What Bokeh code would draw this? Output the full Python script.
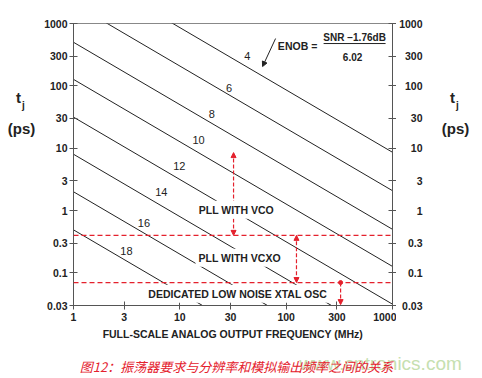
from bokeh.plotting import figure
from bokeh.layouts import row, column
from bokeh.models import (Range1d, LogAxis, FixedTicker, CustomJSTickFormatter,
                          Label, Span, Arrow, NormalHead)
from bokeh.core.properties import value
from bokeh.embed import file_html
from bokeh.resources import INLINE

# ---- data ----
enob = [4, 6, 8, 10, 12, 14, 16, 18]
tj_at_1mhz = [8600, 2080, 500, 127, 31.5, 8.0, 2.0, 0.49]          # ps at 1 MHz
tj_at_1000mhz = [8.6, 2.08, 0.5, 0.127, 0.0315, 0.008, 0.002, 0.00049]  # ps at 1000 MHz
label_f = [43, 29, 20, 15, 9.9, 6.7, 4.6, 3.15]
label_tj = [306, 94, 36, 13.7, 5.1, 2.0, 0.64, 0.227]

x_ticks = [1, 3, 10, 30, 100, 300, 1000]
y_ticks = [0.03, 0.1, 0.3, 1, 3, 10, 30, 100, 300, 1000]

limit_tj = [0.4, 0.07]                       # red dashed limits (ps)
region_names = ["PLL WITH VCO", "PLL WITH VCXO", "DEDICATED LOW NOISE XTAL OSC"]
region_f = [34, 36.5, 35]
region_tj = [1.03, 0.175, 0.0464]
arrow_f = [32, 125, 325]
arrow_top = [8.5, 0.4, 0.07]
arrow_bottom = [0.4, 0.07, 0.031]

x_title = "FULL-SCALE ANALOG OUTPUT FREQUENCY (MHz)"
caption = "图12：振荡器要求与分辨率和模拟输出频率之间的关系"
watermark = "www.cntronics.com"

FONT = "Liberation Sans"
RED = "#e4212d"
INK = "#222222"

# layout geometry (pixels)
LEFT_W, RIGHT_W = 40, 86
TOP, FRAME_W, FRAME_H, BOTTOM = 23, 319, 282, 40
MAIN_L, MAIN_R = 33, 4
MAIN_H = TOP + FRAME_H + BOTTOM
CAP_H = 378 - MAIN_H
RIGHT_AXIS_POS = 30       # inside the right strip

p = figure(width=MAIN_L + FRAME_W + MAIN_R, height=MAIN_H, output_backend="svg",
           toolbar_location=None, x_axis_type="log", y_axis_type="log",
           x_range=Range1d(1, 1000), y_range=Range1d(0.03, 1000),
           min_border_left=MAIN_L, min_border_right=MAIN_R,
           min_border_top=TOP, min_border_bottom=BOTTOM)
p.background_fill_color = "white"
p.border_fill_color = "white"
p.outline_line_color = "#888888"
p.grid.visible = False

fmt = CustomJSTickFormatter(code="return String(tick);")

def style_axis(ax):
    ax.axis_line_color = "#555555"
    ax.major_tick_line_color = "#555555"
    ax.major_tick_in = 4
    ax.major_tick_out = 4
    ax.minor_tick_line_color = None
    ax.major_label_text_font = FONT
    ax.major_label_text_font_size = "10.5px"
    ax.major_label_text_font_style = "bold"
    ax.major_label_text_color = INK

p.xaxis.ticker = FixedTicker(ticks=x_ticks)
p.xaxis.formatter = fmt
p.yaxis.ticker = FixedTicker(ticks=y_ticks)
p.yaxis.formatter = fmt
style_axis(p.xaxis[0])
style_axis(p.yaxis[0])
p.xaxis.major_label_standoff = 3
p.yaxis.major_label_standoff = 2
p.xaxis.axis_label = x_title
p.xaxis.axis_label_text_font = FONT
p.xaxis.axis_label_text_font_size = "10.5px"
p.xaxis.axis_label_text_font_style = "bold"
p.xaxis.axis_label_text_color = INK
p.xaxis.axis_label_standoff = 4

ry = LogAxis(ticker=FixedTicker(ticks=y_ticks),
             formatter=CustomJSTickFormatter(code="return '';"))
style_axis(ry)
ry.major_label_standoff = 0
p.add_layout(ry, "right")

# ENOB lines
for a, b in zip(tj_at_1mhz, tj_at_1000mhz):
    p.line([1, 1000], [a, b], line_color=INK, line_width=1)

for n, f, t in zip(enob, label_f, label_tj):
    p.add_layout(Label(x=f, y=t, text=str(n), text_align="center", text_baseline="middle",
                       text_font=FONT, text_font_size="11px", text_color=INK))

# red limits
for t in limit_tj:
    p.add_layout(Span(location=t, dimension="width", line_color=RED, line_width=1.2,
                      line_dash="5 3"))

for i, (f, lo, hi) in enumerate(zip(arrow_f, arrow_bottom, arrow_top)):
    start = NormalHead(size=5, fill_color=RED, line_color=RED) if i < 2 else None
    p.add_layout(Arrow(x_start=f, y_start=hi, x_end=f, y_end=lo,
                       start=start,
                       end=NormalHead(size=5, fill_color=RED, line_color=RED),
                       line_color=RED, line_width=1.2, line_dash="4 2"))
p.scatter([arrow_f[2]], [arrow_top[2]], size=4, color=RED)

for name, f, t in zip(region_names, region_f, region_tj):
    p.add_layout(Label(x=f, y=t, text=name, text_align="center", text_baseline="middle",
                       text_font=FONT, text_font_size="10.5px", text_font_style="bold",
                       text_color=INK, background_fill_color="white", padding=3))

# ENOB formula
p.add_layout(Arrow(x_start=79.5, y_start=574, x_end=60, y_end=204,
                   end=NormalHead(size=5, fill_color=INK, line_color=INK),
                   line_color=INK, line_width=1))
p.add_layout(Label(x=128, y=443, text="ENOB =", text_align="center", text_baseline="middle",
                   text_font=FONT, text_font_size="10.5px", text_font_style="bold", text_color=INK))
p.add_layout(Label(x=440, y=596, text="SNR −1.76dB", text_align="center", text_baseline="middle",
                   text_font=FONT, text_font_size="10px", text_font_style="bold", text_color=INK))
p.segment(x0=[225], y0=[477], x1=[861], y1=[477], line_color=INK, line_width=1)
p.add_layout(Label(x=421, y=295, text="6.02", text_align="center", text_baseline="middle",
                   text_font=FONT, text_font_size="10px", text_font_style="bold", text_color=INK))


def strip(width, height, x_range, y_range, y_type="linear", top=0, bottom=0, left=0):
    f = figure(width=width, height=height, output_backend="svg", toolbar_location=None,
               x_range=x_range, y_range=y_range, y_axis_type=y_type,
               x_axis_location=None, y_axis_location=None,
               min_border=0, min_border_left=left, min_border_right=0,
               min_border_top=top, min_border_bottom=bottom)
    f.outline_line_color = None
    f.grid.visible = False
    f.background_fill_color = "white"
    f.border_fill_color = "white"
    return f


def ytitle(f, xt):
    f.text(x=[xt], y=[65], text=["t"], text_align="center", text_baseline="middle",
           text_font=value(FONT), text_font_size="15px", text_font_style="bold", text_color=INK)
    f.text(x=[xt + 5], y=[48.4], text=["j"], text_align="center", text_baseline="middle",
           text_font=value(FONT), text_font_size="10px", text_font_style="bold", text_color=INK)
    f.text(x=[xt + 3], y=[20.7], text=["(ps)"], text_align="center", text_baseline="middle",
           text_font=value(FONT), text_font_size="15px", text_font_style="bold", text_color=INK)


left = strip(LEFT_W, MAIN_H, Range1d(0, LEFT_W), Range1d(0.03, 1000), "log",
             top=TOP, bottom=BOTTOM)
ytitle(left, 18)

# right strip: its own left axis carries the right-aligned tick labels
right = strip(RIGHT_W, MAIN_H, Range1d(RIGHT_AXIS_POS, RIGHT_W), Range1d(0.03, 1000), "log",
              top=TOP, bottom=BOTTOM, left=RIGHT_AXIS_POS)
lab_ax = LogAxis(ticker=FixedTicker(ticks=y_ticks), formatter=fmt)
style_axis(lab_ax)
lab_ax.axis_line_color = None
lab_ax.major_tick_line_color = None
lab_ax.major_tick_in = 0
lab_ax.major_tick_out = 0
lab_ax.major_label_standoff = 4
right.add_layout(lab_ax, "left")
ytitle(right, 56)

bottom = strip(482, CAP_H, Range1d(0, 482), Range1d(CAP_H, 0))
bottom.text(x=[380], y=[18], text=[watermark], text_align="center", text_baseline="middle",
            text_font=value(FONT), text_font_size="19px", text_color="#c6e0b0")
bottom.text(x=[236], y=[21], text=[caption], text_align="center", text_baseline="middle",
            text_font=value("Noto Sans CJK SC"), text_font_size="13px",
            text_font_style="italic", text_color=RED)

layout = column(row(left, p, right, spacing=0), bottom, spacing=0)
open("out.html", "w").write(file_html(layout, INLINE))
